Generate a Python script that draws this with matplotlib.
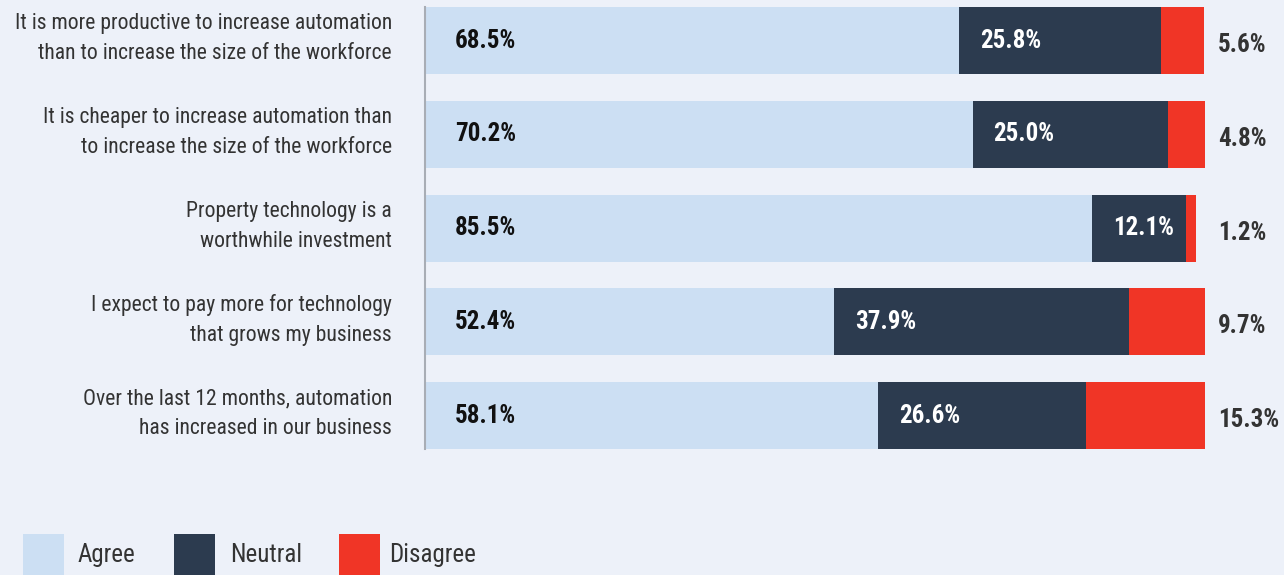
import matplotlib
matplotlib.use("Agg")
import matplotlib.pyplot as plt
from matplotlib.patches import Rectangle
from matplotlib import font_manager
import numpy as np

categories = [
    "It is more productive to increase automation\nthan to increase the size of the workforce",
    "It is cheaper to increase automation than\nto increase the size of the workforce",
    "Property technology is a\nworthwhile investment",
    "I expect to pay more for technology\nthat grows my business",
    "Over the last 12 months, automation\nhas increased in our business",
]
agree = [68.5, 70.2, 85.5, 52.4, 58.1]
neutral = [25.8, 25.0, 12.1, 37.9, 26.6]
disagree = [5.6, 4.8, 1.2, 9.7, 15.3]
series_names = ["Agree", "Neutral", "Disagree"]

BG = "#EDF1F9"
C_AGREE = "#CCDFF3"
C_NEUTRAL = "#2C3B4F"
C_DISAGREE = "#F03526"
TXT = "#333333"

available = {f.name for f in font_manager.fontManager.ttflist}
family = ["Roboto Condensed", "Archivo Narrow", "Liberation Sans", "DejaVu Sans"]
family = [f for f in family if f in available] or ["DejaVu Sans"]
plt.rcParams["font.family"] = family

W, H = 1284, 575
fig = plt.figure(figsize=(W / 100, H / 100), dpi=100, facecolor=BG)

# plot area in pixel terms
ax_left, ax_right = 425, 1205
ax_top, ax_bottom = 7, 449
ax = fig.add_axes([ax_left / W, 1 - ax_bottom / H, (ax_right - ax_left) / W, (ax_bottom - ax_top) / H])
ax.set_facecolor(BG)

n = len(categories)
pos = np.arange(n)
spacing_px = 93.75
bar_h = 67 / spacing_px
first_center = 40.5
ax.set_ylim(n - 1 + (ax_bottom - (first_center + (n - 1) * spacing_px)) / spacing_px,
            -(first_center - ax_top) / spacing_px)
ax.set_xlim(0, 100)

agree_a = np.array(agree)
neutral_a = np.array(neutral)
disagree_a = np.array(disagree)

ax.barh(pos, agree_a, height=bar_h, color=C_AGREE, linewidth=0)
ax.barh(pos, neutral_a, left=agree_a, height=bar_h, color=C_NEUTRAL, linewidth=0)
ax.barh(pos, disagree_a, left=agree_a + neutral_a, height=bar_h, color=C_DISAGREE, linewidth=0)

px = 100 / (ax_right - ax_left)  # data units per pixel
val_fs = 18
for i in range(n):
    ax.text(30 * px, pos[i], f"{agree[i]:.1f}%", ha="left", va="center",
            fontsize=val_fs, fontweight="bold", color="#111111")
    ax.text(agree[i] + 21 * px, pos[i], f"{neutral[i]:.1f}%", ha="left", va="center",
            fontsize=val_fs, fontweight="bold", color="white")
    ax.text(100 + 13 * px, pos[i] + 0.05, f"{disagree[i]:.1f}%", ha="left", va="center",
            fontsize=val_fs, fontweight="bold", color=TXT, clip_on=False)
    ax.text(-33 * px, pos[i] - 0.02, categories[i], ha="right", va="center",
            fontsize=15.6, color=TXT, linespacing=1.55, clip_on=False)

for s in ["top", "right", "bottom"]:
    ax.spines[s].set_visible(False)
ax.spines["left"].set_color("#A8ADB5")
ax.spines["left"].set_linewidth(1.5)
ax.set_xticks([])
ax.set_yticks([])

# legend row along the bottom edge
legend_items = [(23, 78, C_AGREE), (174, 230, C_NEUTRAL), (339, 389, C_DISAGREE)]
for (sx, tx, col), name in zip(legend_items, series_names):
    fig.patches.append(Rectangle((sx / W, 0), 41 / W, 41 / H, transform=fig.transFigure,
                                 facecolor=col, edgecolor="none"))
    fig.text(tx / W, 1 - 555 / H, name, ha="left", va="center", fontsize=18, color=TXT)

fig.savefig("out.png", dpi=100, facecolor=BG)
